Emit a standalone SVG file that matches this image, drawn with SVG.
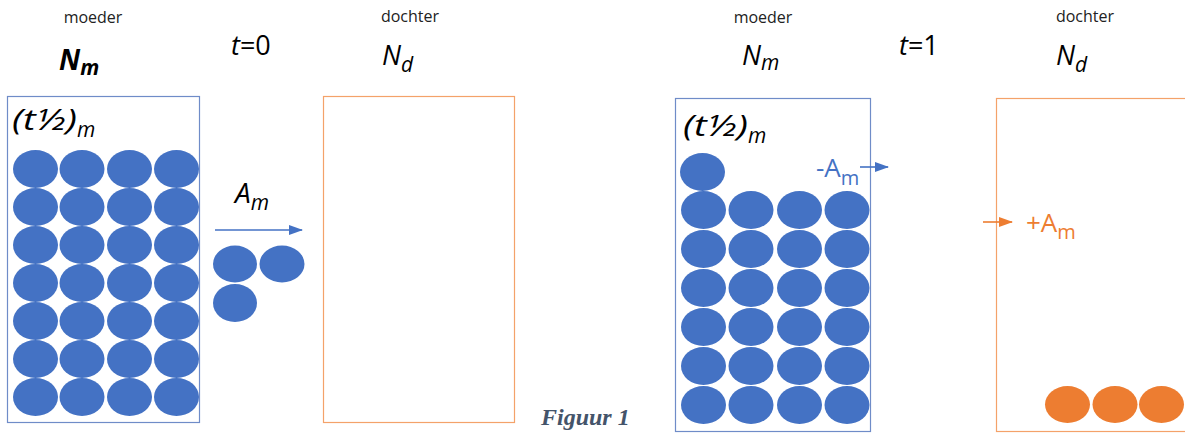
<svg xmlns="http://www.w3.org/2000/svg" width="1185" height="434" viewBox="0 0 1185 434">
<style>
  text { font-family: "Open Sans", "Liberation Sans", sans-serif; fill: #000; }
  .lbl { font-size: 16px; fill: #222; text-anchor: middle; }
  .it { font-style: italic; }
  .big { font-size: 27px; }
  .sub { font-size: 21px; font-style: italic; }
  .half { font-size: 30px; font-style: italic; }
  .mbox { fill: #fff; stroke: #6F8CC8; stroke-width: 1.2; }
  .dbox { fill: #fff; stroke: #F4A26A; stroke-width: 1.2; }
  .cap { font-family: "Liberation Serif", serif; font-weight: bold; font-style: italic; font-size: 24px; fill: #44546A; }
</style>
<defs>
  <marker id="ab" markerWidth="14" markerHeight="10" refX="13" refY="5" orient="auto" markerUnits="userSpaceOnUse">
    <path d="M0,0 L14,5 L0,10 Z" fill="#4472C4"/>
  </marker>
  <marker id="ao" markerWidth="14" markerHeight="10" refX="13" refY="5" orient="auto" markerUnits="userSpaceOnUse">
    <path d="M0,0 L14,5 L0,10 Z" fill="#ED7D31"/>
  </marker>
  <ellipse id="cb" rx="22.5" ry="19" fill="#4472C4"/>
  <ellipse id="co" rx="22.5" ry="18.5" fill="#ED7D31"/>
</defs>

<!-- headings -->
<g id="headings">
  <text class="lbl" x="93" y="23">moeder</text>
  <text class="it" x="59" y="70" font-size="28" font-weight="bold">N<tspan class="sub" dy="5" font-weight="bold">m</tspan></text>
  <text class="big it" x="231" y="55">t<tspan font-style="normal">=0</tspan></text>
  <text class="lbl" x="410" y="22">dochter</text>
  <text class="big it" x="382" y="65">N<tspan class="sub" dy="7">d</tspan></text>

  <text class="lbl" x="763" y="23">moeder</text>
  <text class="big it" x="742" y="65">N<tspan class="sub" dy="5">m</tspan></text>
  <text class="big it" x="899" y="55">t<tspan font-style="normal">=1</tspan></text>
  <text class="lbl" x="1085" y="22">dochter</text>
  <text class="big it" x="1056" y="65">N<tspan class="sub" dy="7">d</tspan></text>
</g>

<!-- t=0 mother -->
<g id="mother-t0">
  <rect class="mbox" x="7.5" y="96.5" width="192" height="326"/>
  <text class="half" x="12" y="130" textLength="65" lengthAdjust="spacingAndGlyphs">(t½)</text>
  <text class="sub" x="77" y="137">m</text>
  <use href="#cb" x="35.5" y="169"/><use href="#cb" x="82" y="169"/><use href="#cb" x="129.5" y="169"/><use href="#cb" x="176.5" y="169"/>
  <use href="#cb" x="35.5" y="207"/><use href="#cb" x="82" y="207"/><use href="#cb" x="129.5" y="207"/><use href="#cb" x="176.5" y="207"/>
  <use href="#cb" x="35.5" y="245"/><use href="#cb" x="82" y="245"/><use href="#cb" x="129.5" y="245"/><use href="#cb" x="176.5" y="245"/>
  <use href="#cb" x="35.5" y="283"/><use href="#cb" x="82" y="283"/><use href="#cb" x="129.5" y="283"/><use href="#cb" x="176.5" y="283"/>
  <use href="#cb" x="35.5" y="321"/><use href="#cb" x="82" y="321"/><use href="#cb" x="129.5" y="321"/><use href="#cb" x="176.5" y="321"/>
  <use href="#cb" x="35.5" y="359"/><use href="#cb" x="82" y="359"/><use href="#cb" x="129.5" y="359"/><use href="#cb" x="176.5" y="359"/>
  <use href="#cb" x="35.5" y="397"/><use href="#cb" x="82" y="397"/><use href="#cb" x="129.5" y="397"/><use href="#cb" x="176.5" y="397"/>
</g>

<!-- decaying atoms in transit -->
<g id="transit-t0">
  <text class="it" x="235" y="203" font-size="28">A<tspan class="sub" dy="7">m</tspan></text>
  <ellipse cx="235" cy="264" rx="22" ry="18.5" fill="#4472C4"/>
  <ellipse cx="282" cy="264" rx="22.5" ry="18.5" fill="#4472C4"/>
  <ellipse cx="235" cy="303" rx="22" ry="19" fill="#4472C4"/>
</g>

<!-- t=0 daughter -->
<g id="daughter-t0">
  <rect class="dbox" x="323.5" y="96.5" width="191" height="326"/>
</g>

<!-- t=1 mother -->
<g id="mother-t1">
  <rect class="mbox" x="675.5" y="98.5" width="195" height="333"/>
  <text class="half" x="683" y="136" textLength="65" lengthAdjust="spacingAndGlyphs">(t½)</text>
  <text class="sub" x="748" y="143">m</text>
  <use href="#cb" x="702.5" y="172"/>
  <use href="#cb" x="703.5" y="210"/><use href="#cb" x="751" y="210"/><use href="#cb" x="799.5" y="210"/><use href="#cb" x="847" y="210"/>
  <use href="#cb" x="703.5" y="249"/><use href="#cb" x="751" y="249"/><use href="#cb" x="799.5" y="249"/><use href="#cb" x="847" y="249"/>
  <use href="#cb" x="703.5" y="288"/><use href="#cb" x="751" y="288"/><use href="#cb" x="799.5" y="288"/><use href="#cb" x="847" y="288"/>
  <use href="#cb" x="703.5" y="327"/><use href="#cb" x="751" y="327"/><use href="#cb" x="799.5" y="327"/><use href="#cb" x="847" y="327"/>
  <use href="#cb" x="703.5" y="366"/><use href="#cb" x="751" y="366"/><use href="#cb" x="799.5" y="366"/><use href="#cb" x="847" y="366"/>
  <use href="#cb" x="703.5" y="405"/><use href="#cb" x="751" y="405"/><use href="#cb" x="799.5" y="405"/><use href="#cb" x="847" y="405"/>
  <text x="816" y="177" font-size="26" style="fill:#4472C4">-A<tspan dy="8" font-size="20">m</tspan></text>
</g>

<!-- t=1 daughter -->
<g id="daughter-t1">
  <rect class="dbox" x="996.5" y="98.5" width="200" height="333"/>
  <text x="1026" y="232" font-size="26" style="fill:#ED7D31">+A<tspan dy="7" font-size="20">m</tspan></text>
  <use href="#co" x="1067.5" y="404.5"/><use href="#co" x="1115" y="404.5"/><use href="#co" x="1161.5" y="404.5"/>
</g>

<!-- connectors -->
<g id="connectors" fill="none" stroke-width="1.6">
  <line x1="215" y1="230" x2="302" y2="230" stroke="#4472C4" marker-end="url(#ab)"/>
  <line x1="860" y1="167" x2="888" y2="167" stroke="#4472C4" marker-end="url(#ab)"/>
  <line x1="983" y1="222" x2="1012" y2="222" stroke="#ED7D31" marker-end="url(#ao)"/>
</g>

<text class="cap" x="541" y="425">Figuur 1</text>
</svg>
